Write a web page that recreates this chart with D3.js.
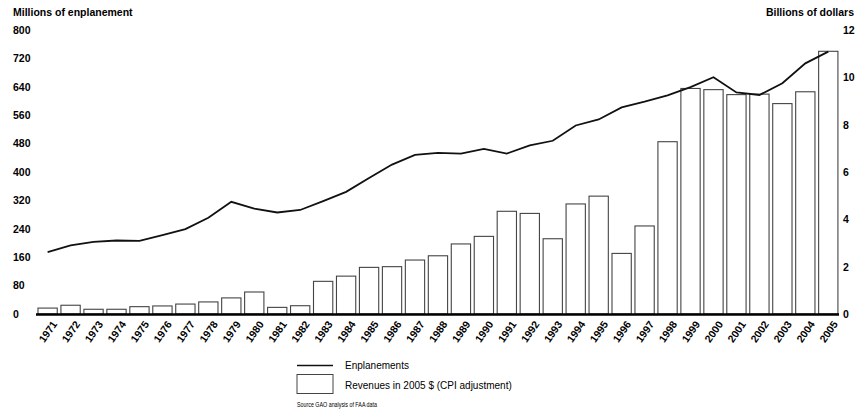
<!DOCTYPE html>
<html><head><meta charset="utf-8">
<script src="https://cdn.jsdelivr.net/npm/d3@7"></script>
<style>body{margin:0;background:#fff}svg{display:block}text{font-family:"Liberation Sans",Arial,sans-serif}</style>
</head><body>
<svg id="c" width="857" height="411"></svg>
<script>
const years = d3.range(1971, 2006).map(String);
const enplanements = [174,193,203,207,206,222,239,271,316,297,286,293,318,344,383,421,448,454,452,465,452,475,488,531,548,582,598,616,639,667,624,617,650,706,739];
const revenues = [0.25,0.37,0.2,0.2,0.31,0.34,0.42,0.51,0.68,0.93,0.28,0.35,1.38,1.6,1.97,2.0,2.28,2.46,2.96,3.28,4.34,4.25,3.18,4.65,4.98,2.56,3.72,7.28,9.53,9.48,9.27,9.29,8.89,9.39,11.1];
const leftTicks = [0,80,160,240,320,400,480,560,640,720,800];
const rightTicks = [0,2,4,6,8,10,12];

const FONT = "'Liberation Sans', Arial, sans-serif";
const svg = d3.select("#c");
const x = d3.scaleBand().domain(years).range([34.3, 841.6]).paddingInner(0.16).paddingOuter(0.16);
const yL = d3.scaleLinear().domain([0,800]).range([314,30]);
const yR = d3.scaleLinear().domain([0,12]).range([314,30]);

// bars
svg.append("g").selectAll("rect").data(years).join("rect")
  .attr("x", d => x(d)).attr("width", x.bandwidth())
  .attr("y", (d,i) => yR(revenues[i])).attr("height", (d,i) => yR(0) - yR(revenues[i]))
  .attr("fill", "#fff").attr("stroke", "#444").attr("stroke-width", 1.1);

// baseline
svg.append("line").attr("x1", 36).attr("x2", 839).attr("y1", 314.5).attr("y2", 314.5)
  .attr("stroke", "#000").attr("stroke-width", 2.5);

// line
const line = d3.line().x((d,i) => x(years[i]) + x.bandwidth()/2).y(d => yL(d));
svg.append("path").datum(enplanements).attr("d", line)
  .attr("fill", "none").attr("stroke", "#111").attr("stroke-width", 1.8);

// left axis
const gl = svg.append("g").attr("transform", "translate(13,0)")
  .call(d3.axisLeft(yL).tickValues(leftTicks).tickSize(0).tickPadding(0));
gl.select(".domain").remove();
gl.selectAll("text").attr("text-anchor", "start").attr("font-size", 10.5).attr("font-weight", "bold").attr("fill", "#000")
  .attr("font-family", FONT);

// right axis
const gr = svg.append("g").attr("transform", "translate(838,0)")
  .call(d3.axisRight(yR).tickValues(rightTicks).tickSize(0).tickPadding(5));
gr.select(".domain").remove();
gr.selectAll("text").attr("font-size", 10.5).attr("font-weight", "bold").attr("fill", "#000")
  .attr("font-family", FONT);

// x axis labels
const gx = svg.append("g").attr("transform", "translate(0,318)")
  .call(d3.axisBottom(x).tickSize(0).tickPadding(0));
gx.select(".domain").remove();
gx.selectAll("text").attr("font-size", 10.5).attr("font-weight", "bold").attr("fill", "#000")
  .attr("font-family", FONT)
  .attr("text-anchor", "end").attr("dy", "0.35em")
  .attr("transform", "translate(7,4) rotate(-55)");

// axis titles
svg.append("text").attr("x", 13).attr("y", 16).attr("font-size", 10.5).attr("font-weight", "bold").text("Millions of enplanement");
svg.append("text").attr("x", 854).attr("y", 16).attr("text-anchor", "end").attr("font-size", 10.5).attr("font-weight", "bold").text("Billions of dollars");

// legend
const lg = svg.append("g");
lg.append("line").attr("x1", 297).attr("x2", 333).attr("y1", 365.5).attr("y2", 365.5).attr("stroke", "#111").attr("stroke-width", 1.3);
lg.append("text").attr("x", 345).attr("y", 368.5).attr("font-size", 10).text("Enplanements");
lg.append("rect").attr("x", 297).attr("y", 374.5).attr("width", 36).attr("height", 19).attr("fill", "#fff").attr("stroke", "#444").attr("stroke-width", 1);
lg.append("text").attr("x", 345).attr("y", 389).attr("font-size", 10).text("Revenues in 2005 $ (CPI adjustment)");
lg.append("text").attr("x", 297).attr("y", 407).attr("font-size", 6.5)
  .attr("textLength", 80).attr("lengthAdjust", "spacingAndGlyphs").text("Source  GAO analysis of FAA data");
</script>
</body></html>
